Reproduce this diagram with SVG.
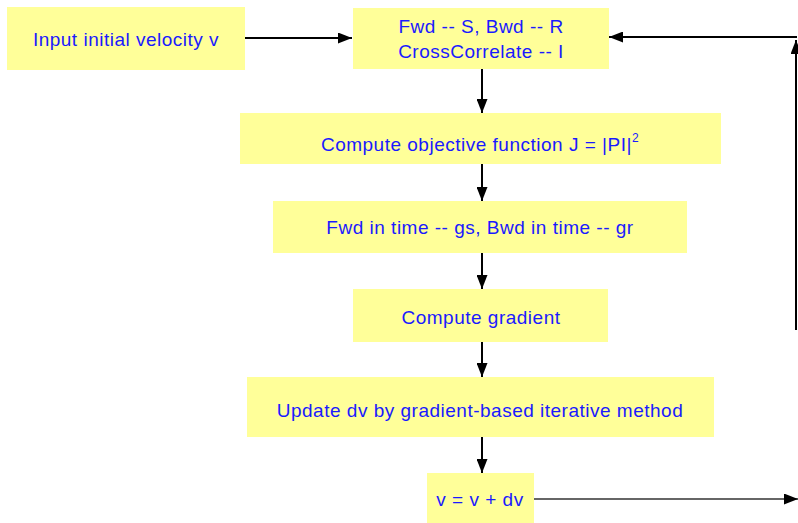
<svg xmlns="http://www.w3.org/2000/svg" width="798" height="523" viewBox="0 0 798 523">
<style>
.box{fill:#ffff99;stroke:none}
.t{font-family:"Liberation Sans",Arial,sans-serif;font-size:19px;letter-spacing:0.5px;fill:#1a1aff;text-anchor:middle}
.c{stroke:#000;stroke-width:2;fill:none}
.g{stroke:#666;stroke-width:2;fill:none}
</style>
<defs>
<marker id="ah" viewBox="0 0 14 11" refX="14" refY="5.5" markerWidth="14" markerHeight="11" markerUnits="userSpaceOnUse" orient="auto">
<path d="M0,0 L14,5.5 L0,11 Z" fill="#000"/>
</marker>
</defs>
<g id="n1"><rect class="box" x="7" y="7" width="238" height="63"/><text class="t" x="126" y="46">Input initial velocity v</text></g>
<g id="n2"><rect class="box" x="353" y="8" width="256" height="61"/><text class="t" x="481" y="33">Fwd -- S, Bwd -- R</text><text class="t" x="481" y="58">CrossCorrelate -- I</text></g>
<g id="n3"><rect class="box" x="240" y="113" width="481" height="51"/><text class="t" x="480" y="151">Compute objective function J = |PI|<tspan font-size="12" dy="-9">2</tspan></text></g>
<g id="n4"><rect class="box" x="273" y="201" width="414" height="52"/><text class="t" x="480" y="234">Fwd in time -- gs, Bwd in time -- gr</text></g>
<g id="n5"><rect class="box" x="353" y="289" width="255" height="53"/><text class="t" x="481" y="324">Compute gradient</text></g>
<g id="n6"><rect class="box" x="247" y="377" width="467" height="60"/><text class="t" x="480" y="417">Update dv by gradient-based iterative method</text></g>
<g id="n7"><rect class="box" x="427" y="473" width="107" height="52"/><text class="t" x="480" y="506">v = v + dv</text></g>
<g id="connectors">
<line class="c" x1="245" y1="38" x2="352" y2="38" marker-end="url(#ah)"/>
<line class="c" x1="482" y1="69" x2="482" y2="113" marker-end="url(#ah)"/>
<line class="c" x1="482" y1="164" x2="482" y2="201" marker-end="url(#ah)"/>
<line class="c" x1="482" y1="253" x2="482" y2="289" marker-end="url(#ah)"/>
<line class="c" x1="482" y1="342" x2="482" y2="377" marker-end="url(#ah)"/>
<line class="c" x1="482" y1="437" x2="482" y2="473" marker-end="url(#ah)"/>
<line class="g" x1="534" y1="499" x2="798" y2="499" marker-end="url(#ah)"/>
<line class="c" x1="796" y1="330" x2="796" y2="40" marker-end="url(#ah)"/>
<line class="c" x1="797" y1="37" x2="609" y2="37" marker-end="url(#ah)"/>
</g>
</svg>
